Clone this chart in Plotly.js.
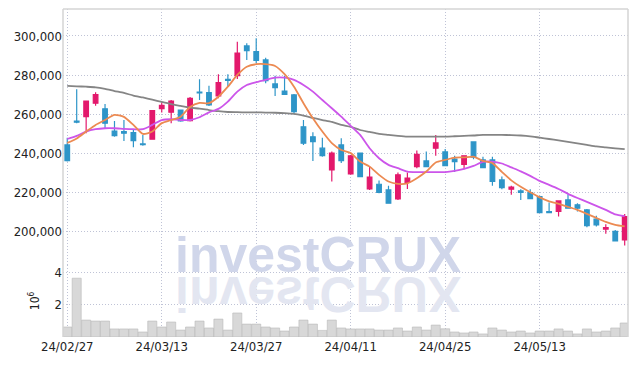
<!DOCTYPE html>
<html>
<head>
<meta charset="utf-8">
<script src="https://cdn.plot.ly/plotly-3.0.1.min.js"></script>
<style>html,body{margin:0;padding:0;background:#fff}#chart{width:637px;height:366px}</style>
</head>
<body>
<div id="chart"></div>
<script>
const dates = ["2024-02-27","2024-02-28","2024-02-29","2024-03-04","2024-03-05","2024-03-06","2024-03-07","2024-03-08","2024-03-11","2024-03-12",
"2024-03-13","2024-03-14","2024-03-15","2024-03-18","2024-03-19","2024-03-20","2024-03-21","2024-03-22","2024-03-25","2024-03-26",
"2024-03-27","2024-03-28","2024-03-29","2024-04-01","2024-04-02","2024-04-03","2024-04-04","2024-04-05","2024-04-08","2024-04-09",
"2024-04-11","2024-04-12","2024-04-15","2024-04-16","2024-04-17","2024-04-18","2024-04-19","2024-04-22","2024-04-23","2024-04-24",
"2024-04-25","2024-04-26","2024-04-29","2024-04-30","2024-05-02","2024-05-03","2024-05-07","2024-05-08","2024-05-09","2024-05-10",
"2024-05-13","2024-05-14","2024-05-16","2024-05-17","2024-05-20","2024-05-21","2024-05-22","2024-05-23","2024-05-24","2024-05-27"];

const open = [244400,256500,258800,265700,262800,251500,251200,250700,244900,247300,
262900,261100,262200,256800,271400,271100,269400,277800,279700,294900,
292000,287800,275500,271900,269900,253600,248500,242700,231600,244400,
229600,240200,221900,224300,221400,216800,225200,233300,236200,242700,
240800,237200,234500,245900,236700,236700,226500,221800,220900,220100,
218000,210400,210400,216300,213800,211200,206500,201400,200200,195900];
const high = [248000,272800,267000,271300,265300,256600,257100,252400,249500,262200,
266000,267300,262500,268900,277900,274600,280500,280500,297100,296300,
298800,288900,279700,279700,270400,257100,250900,248100,241000,247800,
239300,240300,233300,226200,223600,230300,230300,241500,241000,249500,
242300,238800,239100,246200,238400,238400,228200,223600,221800,221800,
218400,215000,216000,219200,214600,211700,208200,203900,201000,209100];
const low = [235900,255500,250400,264400,252900,248600,246400,243200,243900,247000,
260900,255500,256200,256400,267300,264300,268200,274100,278100,287800,
286100,275900,269400,270000,260400,244400,236200,238400,225700,235200,
229100,228100,221400,219700,214400,216300,221900,232500,233000,238800,
233700,230500,232000,237100,232600,223500,221800,218900,216300,216800,
209600,209500,207800,211900,210400,202400,202700,199000,195100,193000];
const close = [236400,256000,266800,270100,255500,249100,250400,246600,244500,261900,
264600,266800,256600,268200,270900,264800,276200,277300,291200,292500,
287500,277200,273600,270200,261400,245300,246100,238900,240200,236400,
238800,228200,227900,220100,214600,229100,227400,239600,233300,245400,
233800,235900,238800,238100,232800,225700,222600,222800,220100,217000,
209800,209800,215800,212100,212100,203200,203600,202200,195400,207800];

const ma5 = [245400,247700,251200,254600,257100,259700,258700,254600,250000,251200,
255500,257100,258800,263800,265800,265700,269000,274100,280100,284300,
285600,285600,284700,280500,274100,265700,258000,251200,245300,241800,
240200,235900,233300,229100,225700,224500,224800,227400,230800,235400,
236700,237900,238000,238400,236200,235100,230600,226300,223000,220200,
217600,215600,214300,212800,211200,209200,207100,205100,203600,202800];
const ma20 = [247400,249000,251200,252400,252900,252900,252600,252400,252400,254600,
257100,257500,257100,257100,258500,261000,262800,266500,271600,275000,
276400,277600,278700,278700,277600,275000,271600,267300,263100,258800,
254100,249500,242700,237600,234200,232500,230800,230500,230500,230500,
230500,231100,232100,233700,235700,235900,234900,232900,230900,228600,
226000,224000,221900,219400,217300,215300,213300,211200,208900,208000];
const ma60 = [274500,274300,274100,273800,273000,271900,270900,269600,268600,267500,
266300,265200,264300,263400,262900,262200,261600,261200,261100,261000,
261000,260900,260800,260600,260200,259300,258200,257100,256100,254600,
253600,252000,251000,250000,249500,249000,248600,248600,248600,248600,
248600,248800,249000,249200,249500,249500,249500,249400,249200,248800,
248100,247400,246700,245900,245200,244400,243600,243100,242600,242200];

const volume = [620000,3650000,1050000,990000,990000,500000,500000,500000,310000,990000,
620000,930000,430000,620000,990000,560000,1110000,430000,1490000,800000,
800000,620000,560000,370000,620000,1050000,800000,410000,1050000,560000,
500000,500000,500000,430000,430000,560000,370000,620000,430000,740000,
510000,310000,250000,310000,190000,560000,430000,310000,370000,250000,
370000,370000,500000,370000,190000,500000,310000,370000,560000,870000];

const tickIdx = [0,10,20,30,40,50];
const tickVals = tickIdx.map(i => dates[i]);
const tickText = tickVals.map(d => d.slice(2).replace(/-/g, "/"));
const priceTicks = [200000,220000,240000,260000,280000,300000];
const volTicks = [2000000,4000000];
const volTickText = ["2","4"];
const watermark = "investCRUX";

const FONT = "DejaVu Sans Condensed, DejaVu Sans, sans-serif";
const WMFONT = "Liberation Sans, Arial, sans-serif";
const GRID = "#bfc3d6";
const DASH = "1px,2px";

const traces = [
  {type:"bar", x:dates, y:volume, xaxis:"x", yaxis:"y2",
   marker:{color:"#d8d8d8", line:{color:"#b9b9b9", width:0.6}}, hoverinfo:"skip", showlegend:false},
  {type:"scatter", mode:"lines", x:dates, y:ma60, xaxis:"x", yaxis:"y",
   line:{color:"#858585", width:1.8, shape:"spline", smoothing:0.6}, showlegend:false},
  {type:"scatter", mode:"lines", x:dates, y:ma20, xaxis:"x", yaxis:"y",
   line:{color:"#cc55ea", width:1.8, shape:"spline", smoothing:0.6}, showlegend:false},
  {type:"scatter", mode:"lines", x:dates, y:ma5, xaxis:"x", yaxis:"y",
   line:{color:"#ec8a52", width:1.8, shape:"spline", smoothing:0.6}, showlegend:false},
  {type:"candlestick", x:dates, open:open, high:high, low:low, close:close, xaxis:"x", yaxis:"y",
   increasing:{line:{color:"#e3196c", width:1.2}, fillcolor:"#e3196c"},
   decreasing:{line:{color:"#2e95c8", width:1.2}, fillcolor:"#2e95c8"},
   whiskerwidth:0, showlegend:false}
];

const layout = {
  width:637, height:366,
  margin:{l:63, r:9, t:9, b:29},
  paper_bgcolor:"#ffffff", plot_bgcolor:"#ffffff",
  showlegend:false, boxgap:0.3, bargap:0.04,
  font:{family:FONT, size:13, color:"#222"},
  xaxis:{type:"category", anchor:"y2", domain:[0,1], range:[-0.45,59.35],
    rangeslider:{visible:false}, tickmode:"array", tickvals:tickVals, ticktext:tickText,
    showgrid:true, gridcolor:GRID, griddash:DASH, gridwidth:1, zeroline:false,
    showline:false, ticks:"", tickfont:{family:FONT, size:13, color:"#222"}},
  yaxis:{domain:[0.22,1], range:[183163,313775], tickmode:"array", tickvals:priceTicks,
    tickformat:",d", showgrid:true, gridcolor:GRID, griddash:DASH, zeroline:false,
    showline:false, ticks:"", tickfont:{family:FONT, size:13, color:"#222"}},
  yaxis2:{domain:[0,0.22], range:[0,4480000], tickmode:"array", tickvals:volTicks, ticktext:volTickText,
    showgrid:true, gridcolor:GRID, griddash:DASH, zeroline:false, showline:false, ticks:"",
    tickfont:{family:FONT, size:13, color:"#222"},
    title:{text:"10<sup>6</sup>", font:{family:FONT, size:12, color:"#222"}, standoff:12}},
  shapes:[
    {type:"line", xref:"paper", yref:"paper", x0:0, x1:0, y0:0, y1:1, line:{color:"#d4d4d4", width:1.5}},
    {type:"line", xref:"paper", yref:"paper", x0:0, x1:1, y0:1, y1:1, line:{color:"#d4d4d4", width:1.5}},
    {type:"line", xref:"paper", yref:"paper", x0:1, x1:1, y0:0, y1:1, line:{color:"#d4d4d4", width:1.5}}
  ],
  annotations:[
    {text:"<b>" + watermark + "</b>", xref:"paper", yref:"paper", x:0.4507, y:0.16, xanchor:"center", yanchor:"bottom",
     showarrow:false, font:{family:WMFONT, size:50, color:"#d0d6ea"}},
    {text:"<b>" + watermark + "</b>", xref:"paper", yref:"paper", x:0.4507, y:0.16, xanchor:"center", yanchor:"bottom",
     showarrow:false, font:{family:WMFONT, size:50, color:"#e3e6f1"}}
  ]
};

Plotly.newPlot("chart", traces, layout, {displayModeBar:false, staticPlot:true}).then(function(){
  const anns = document.querySelectorAll("#chart g.annotation");
  if (anns.length > 1) {
    const t0 = anns[0].querySelector("text");
    const r = t0.getBoundingClientRect();
    const base = r.bottom - 0.212 * 50 + 2;
    anns[1].setAttribute("transform", "translate(0," + (2 * base) + ") scale(1,-1)");
  }
});
</script>
</body>
</html>
